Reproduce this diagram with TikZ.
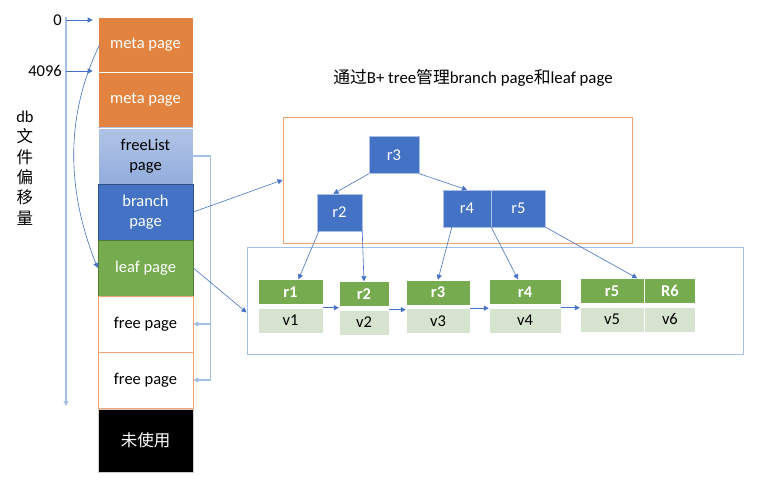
\documentclass[tikz,border=0pt]{standalone}
\usepackage{fontspec}
\setmainfont{Carlito}
\newfontfamily\cjk{Noto Sans CJK SC}
\usetikzlibrary{arrows.meta, positioning}

\definecolor{metaorange}{HTML}{E2843F}
\definecolor{branchblue}{HTML}{4472C4}
\definecolor{leafgreen}{HTML}{76AB4F}
\definecolor{valgreen}{HTML}{D6E3CE}
\definecolor{lineblue}{HTML}{A4C0E8}
\definecolor{freeorange}{HTML}{F2A46F}
\newcommand\pagefont{\fontsize{16.5}{20}\selectfont}

\begin{document}
\begin{tikzpicture}[x=1pt, y=-1pt,
  pagebox/.style={minimum width=95pt, minimum height=56pt, inner sep=0pt, align=center, font=\pagefont, draw=white, line width=0.6pt},
  treebox/.style={fill=branchblue, draw=branchblue!45!white, text=white, inner sep=0pt, minimum height=37pt, font=\pagefont},
  keybox/.style={fill=leafgreen, draw=white, text=white, inner sep=0pt, minimum height=25pt, font=\pagefont\bfseries},
  valbox/.style={fill=valgreen, draw=white, inner sep=0pt, minimum height=25pt, font=\pagefont},
  link/.style={-{Triangle[length=5pt, width=5pt]}, branchblue, line width=0.6pt},
  thickline/.style={-{Triangle[length=5pt, width=5pt]}, lineblue, line width=1.4pt},
]
\useasboundingbox (0,0) rectangle (778,494);

% db 文件
\node[pagebox, fill=metaorange, text=white, minimum height=55pt] (meta1) at (145.5, 44.5) {meta page};
\node[pagebox, fill=metaorange, text=white] (meta2) at (145.5, 100) {meta page};
\node[pagebox, top color=branchblue!42!white, bottom color=branchblue!58!white] (freelist) at (145.5, 156) {freeList\\page};
\node[pagebox, fill=branchblue, draw=branchblue!70!black, text=white] (branch) at (145.5, 212) {branch\\page};
\node[pagebox, fill=leafgreen, draw=leafgreen!70!black, text=white] (leaf) at (145.5, 268) {leaf page};
\node[pagebox, fill=white, draw=freeorange] (free1) at (145.5, 324) {free page};
\node[pagebox, fill=white, draw=freeorange] (free2) at (145.5, 380) {free page};
\node[pagebox, fill=black, draw=gray!40, text=white, minimum height=63pt] (unused) at (145.5, 440.5) {\cjk 未使用};

% 偏移量
\coordinate (axtop) at (66, 17);
\coordinate (axbot) at (66, 406);
\draw[thickline] (axtop) -- (axbot);
\node[font=\pagefont, anchor=east, inner sep=0pt] (off0) at (62, 20) {0};
\node[font=\pagefont, anchor=east, inner sep=0pt] (off1) at (62, 71) {4096};
\draw[link, shorten >=5pt] (axtop |- off0) -- (off0 -| meta1.west);
\draw[link, shorten >=5pt] (axtop |- off1) -- (off1 -| meta1.west);
\node[align=center, font=\fontsize{16.5}{20.3}\selectfont] (axlabel) at (25, 168) {db\\{\cjk 文}\\{\cjk 件}\\{\cjk 偏}\\{\cjk 移}\\{\cjk 量}};

\draw[link] ([xshift=2pt]meta1.west) .. controls +(-34,70) and +(-32,-80) .. (leaf.west);

% freeList 链
\draw[thickline] (freelist.east) -- ++(17,0) coordinate (flx) |- (free2.east);
\draw[thickline] (flx |- free1.east) -- (free1.east);

% B+ tree
\node[font=\fontsize{16.8}{19}\selectfont] (title) at (473, 78) {{\cjk 通过}B+ tree{\cjk 管理}branch page{\cjk 和}leaf page};
\node[draw=freeorange, line width=0.8pt, minimum width=349pt, minimum height=126pt] (btree) at (457.5, 180) {};
\node[draw=lineblue, line width=1pt, minimum width=496pt, minimum height=107pt] (leafs) at (495, 300.5) {};

\node[treebox, minimum width=50pt] (t3) at (394, 155) {r3};
\node[treebox, minimum width=45pt] (t2) at (339.5, 212.5) {r2};
\node[treebox, minimum width=48pt] (t4) at (467, 208.5) {r4};
\node[treebox, minimum width=54pt, right=0pt of t4] (t5) {r5};

\node[keybox, minimum width=65pt] (k1) at (290.5, 292) {r1};
\node[keybox, minimum width=50pt] (k2) at (364, 294) {r2};
\node[keybox, minimum width=64pt] (k3) at (438, 292.5) {r3};
\node[keybox, minimum width=72pt] (k4) at (525, 292) {r4};
\node[keybox, minimum width=64pt] (k5) at (612, 291) {r5};
\node[keybox, minimum width=51pt, right=0pt of k5] (k6) {R6};
\node[valbox, minimum width=65pt, below=3pt of k1] (v1) {v1};
\node[valbox, minimum width=50pt, below=3pt of k2] (v2) {v2};
\node[valbox, minimum width=64pt, below=3pt of k3] (v3) {v3};
\node[valbox, minimum width=72pt, below=3pt of k4] (v4) {v4};
\node[valbox, minimum width=64pt, below=3pt of k5] (v5) {v5};
\node[valbox, minimum width=51pt, below=3pt of k6] (v6) {v6};

% 连线
\draw[link] (branch.east) -- (btree.west);
\draw[link] (leaf.east) -- ([yshift=-12pt]leafs.west);
\draw[link] (t3.south west) -- ([xshift=-6pt]t2.north);
\draw[link] (t3.south east) -- (t4.north);
\draw[link] ([xshift=2pt]t2.south west) -- ([xshift=8pt]k1.north);
\draw[link] (t2.south east) -- (k2.north);
\draw[link] ([xshift=9pt]t4.south west) -- (k3.north);
\draw[link] (t4.south east) -- ([xshift=-7pt]k4.north);
\draw[link] (t5.south east) -- ([xshift=-7pt]k5.north east);
\foreach \a/\b in {v1/v2, v2/v3, v3/v4, v4/v5} {
  \draw[link] (\a.north east) -- (\a.north east -| \b.west);
}

\end{tikzpicture}
\end{document}
